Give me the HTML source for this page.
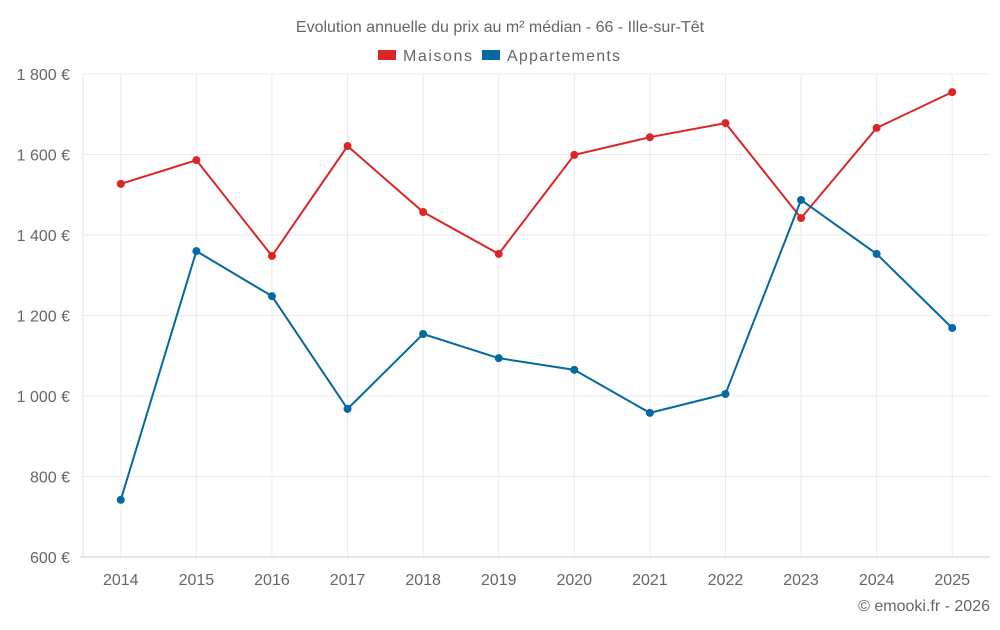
<!DOCTYPE html>
<html><head><meta charset="utf-8"><style>
body{margin:0;background:#fff;font-family:"Liberation Sans",sans-serif;}
svg text{font-family:"Liberation Sans",sans-serif;fill:#666;}
</style></head><body>
<svg id="chart" width="1000" height="625" xmlns="http://www.w3.org/2000/svg">
<text x="500" y="32" text-anchor="middle" font-size="16">Evolution annuelle du prix au m² médian - 66 - Ille-sur-Têt</text>
<g><rect x="378" y="50" width="18" height="10" fill="#dc2626"/><text x="403" y="61" font-size="16" textLength="69">Maisons</text></g>
<g><rect x="482" y="50" width="18" height="10" fill="#0369a1"/><text x="507" y="61" font-size="16" textLength="113">Appartements</text></g>
<g id="grid"></g><g id="series"></g>
<text x="990" y="611" text-anchor="end" font-size="16">© emooki.fr - 2026</text>
</svg>
<script>
const years=["2014","2015","2016","2017","2018","2019","2020","2021","2022","2023","2024","2025"];
const maisons=[1527,1586,1348,1621,1457,1353,1599,1643,1678,1442,1666,1755];
const appartements=[742,1360,1248,968,1154,1094,1065,958,1005,1487,1353,1169];
const yTicks=[600,800,1000,1200,1400,1600,1800];
const yTickLabels=["600 €","800 €","1 000 €","1 200 €","1 400 €","1 600 €","1 800 €"];
const NS="http://www.w3.org/2000/svg";
const L=83,R=990,T=74,B=557,ymin=600,ymax=1800;
const step=(R-L)/years.length;
const x=i=>L+step*(i+0.5);
const y=v=>B-(v-ymin)/(ymax-ymin)*(B-T);
const g=document.getElementById('grid'),s=document.getElementById('series');
function mk(t,a,p){const e=document.createElementNS(NS,t);for(const k in a)e.setAttribute(k,a[k]);p.appendChild(e);return e;}
const la=mk('line',{x1:L,x2:L,y1:T,y2:B,stroke:'#e6e6e6'},g);


years.forEach((yr,i)=>{
 const l=mk('line',{x1:x(i),x2:x(i),y1:T,y2:B,stroke:'#ebebeb'},g);
 
 
 const t=mk('text',{x:x(i),y:585,'text-anchor':'middle','font-size':16},g);t.textContent=yr;
 
 
});
yTicks.forEach((v,i)=>{
 const l=mk('line',{x1:i==0?L-3:L,x2:R,y1:y(v),y2:y(v),stroke:i==0?'#ccc':'#ebebeb'},g);
 
 
 const t=mk('text',{x:L-13,y:y(v)+6,'text-anchor':'end','font-size':16},g);t.textContent=yTickLabels[i];
 
 
});
function series(data,color,name){
 const p=mk('polyline',{points:data.map((v,i)=>x(i)+','+y(v)).join(' '),fill:'none',stroke:color,'stroke-width':2},s);
 
 
 data.forEach((v,i)=>{
  const c=mk('circle',{cx:x(i),cy:y(v),r:4,fill:color},s);
  
  
 });
}
series(maisons,'#dc2626','maisons');
series(appartements,'#0369a1','appartements');
</script>
</body></html>
